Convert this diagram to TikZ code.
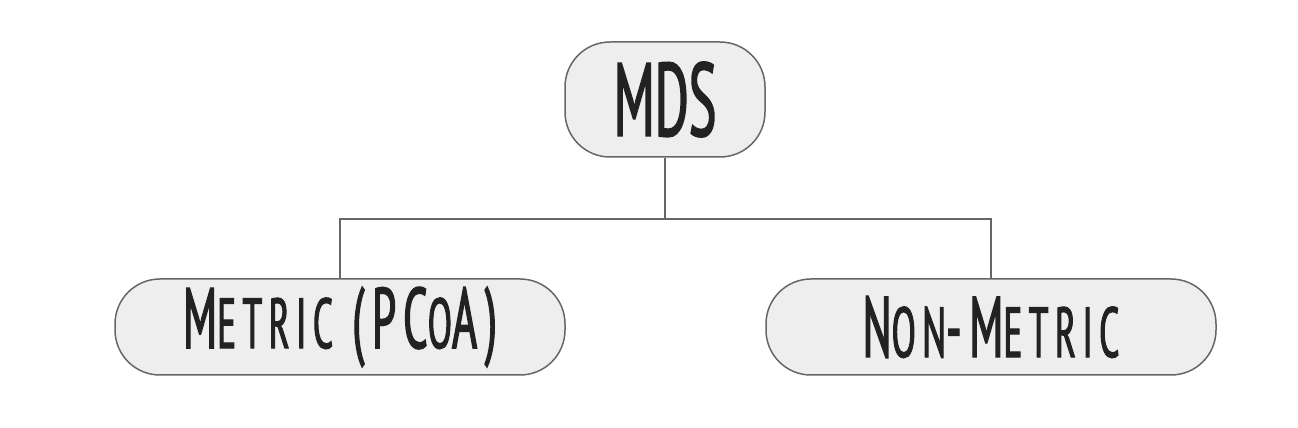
\documentclass[tikz,border=0pt]{standalone}
\usepackage{fontspec}
\usepackage{xcolor}
\usepackage{tikz}
\setmainfont{PT Sans}[FakeStretch=0.5,FakeBold=1.5]
\newfontfamily\spacedfont{PT Sans}[FakeStretch=0.5,FakeBold=1.5,LetterSpace=9]
\definecolor{boxfill}{HTML}{EEEEEE}
\definecolor{boxline}{HTML}{666666}
\definecolor{ink}{HTML}{222222}
\newcommand\smcap[1]{{\fontsize{71}{71}\selectfont\MakeUppercase{#1}}}

\begin{document}
\begin{tikzpicture}[x=1pt,y=1pt]
 \tikzset{block/.style={rectangle, rounded corners=45pt, fill=boxfill, draw=boxline, line width=1.5pt, text=ink, inner sep=0pt, minimum height=96pt, minimum width=450pt, font=\spacedfont\fontsize{86}{86}\selectfont}};
  \useasboundingbox (0,0) rectangle (1298,428);
  \node[block, minimum width=200pt, minimum height=115pt, font=\fontsize{104}{104}\selectfont] (mds) at (665,328.5) {MDS};
  \node[block] (metric) at (340,101) {\raisebox{-7pt}{M\smcap{etric} (PC\smcap{o}A)}};
  \node[block] (nonmetric) at (991,101) {\raisebox{-7pt}{N\smcap{on}-M\smcap{etric}}};
  \coordinate (split) at (665,209);
  \draw[boxline, line width=1.5pt] (mds.south) -- (split);
  \draw[boxline, line width=1.5pt] (split) -| (metric.north);
  \draw[boxline, line width=1.5pt] (split) -| (nonmetric.north);
\end{tikzpicture}
\end{document}
